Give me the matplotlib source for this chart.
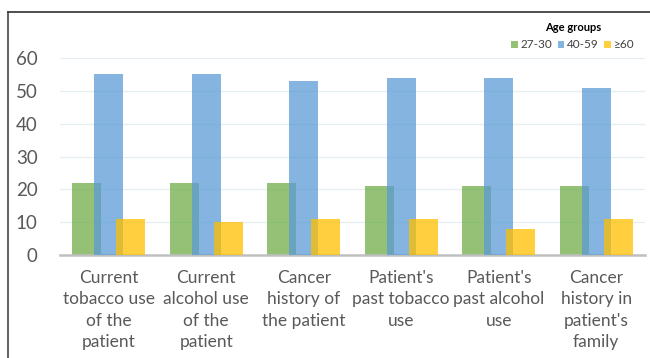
import numpy as np
import matplotlib
matplotlib.use("Agg")
import matplotlib.pyplot as plt
from matplotlib.lines import Line2D

plt.rcParams['font.family'] = ['Lato', 'DejaVu Sans']

categories = [
    "Current\ntobacco use\nof the\npatient",
    "Current\nalcohol use\nof the\npatient",
    "Cancer\nhistory of\nthe patient",
    "Patient's\npast tobacco\nuse",
    "Patient's\npast alcohol\nuse",
    "Cancer\nhistory in\npatient's\nfamily",
]
age_groups = ["27-30", "40-59", "\u226560"]
values_27_30 = [22, 22, 22, 21, 21, 21]
values_40_59 = [55, 55, 53, 54, 54, 51]
values_60 = [11, 10, 11, 11, 8, 11]
colors = ["#70AD47", "#5B9BD5", "#FFC000"]

fig = plt.figure(figsize=(6.5, 3.58), dpi=100)
ax = fig.add_axes([60 / 650, 1 - 255 / 358, 585 / 650, 197 / 358])

x = np.arange(len(categories))
width = 0.30
step = 0.225
series = [values_27_30, values_40_59, values_60]
for i, (vals, col, lab) in enumerate(zip(series, colors, age_groups)):
    ax.bar(x + (i - 1) * step, vals, width=width, color=col, alpha=0.75,
           label=lab, zorder=2 + i, linewidth=0)

ax.set_xlim(-0.5, len(categories) - 0.5)
ax.set_ylim(0, 60)
ax.set_yticks(range(0, 61, 10))
ax.grid(axis="y", color="#E6EEF2", linewidth=0.9, zorder=0)
ax.set_axisbelow(True)
for s in ["top", "right", "left"]:
    ax.spines[s].set_visible(False)
ax.spines["bottom"].set_color("#BFBFBF")
ax.spines["bottom"].set_linewidth(1.8)

ax.set_xticks(x)
ax.set_xticklabels(categories, fontsize=12.5, color="#595959", linespacing=1.4)
ax.tick_params(axis="x", length=0, pad=11)
ax.tick_params(axis="y", length=0, pad=16, labelsize=13.5, labelcolor="#595959")

leg = ax.legend(title="Age groups", loc="upper right", bbox_to_anchor=(0.99, 1.205),
                ncol=3, frameon=False, fontsize=8.5, title_fontsize=8,
                handlelength=0.55, handleheight=0.55, handletextpad=0.25,
                columnspacing=0.45, borderaxespad=0)
leg.get_title().set_fontweight("bold")
for t in leg.get_texts():
    t.set_color("#404040")
for h in leg.legend_handles:
    h.set_alpha(0.75)

# outer frame (top and left edges of the original box)
fig.add_artist(Line2D([8 / 650, 8 / 650], [0, 1 - 12 / 358], transform=fig.transFigure,
                      color="#555555", linewidth=1.3))
fig.add_artist(Line2D([8 / 650, 1], [1 - 12 / 358, 1 - 12 / 358], transform=fig.transFigure,
                      color="#404040", linewidth=1.3))

fig.savefig("out.png", dpi=100)
